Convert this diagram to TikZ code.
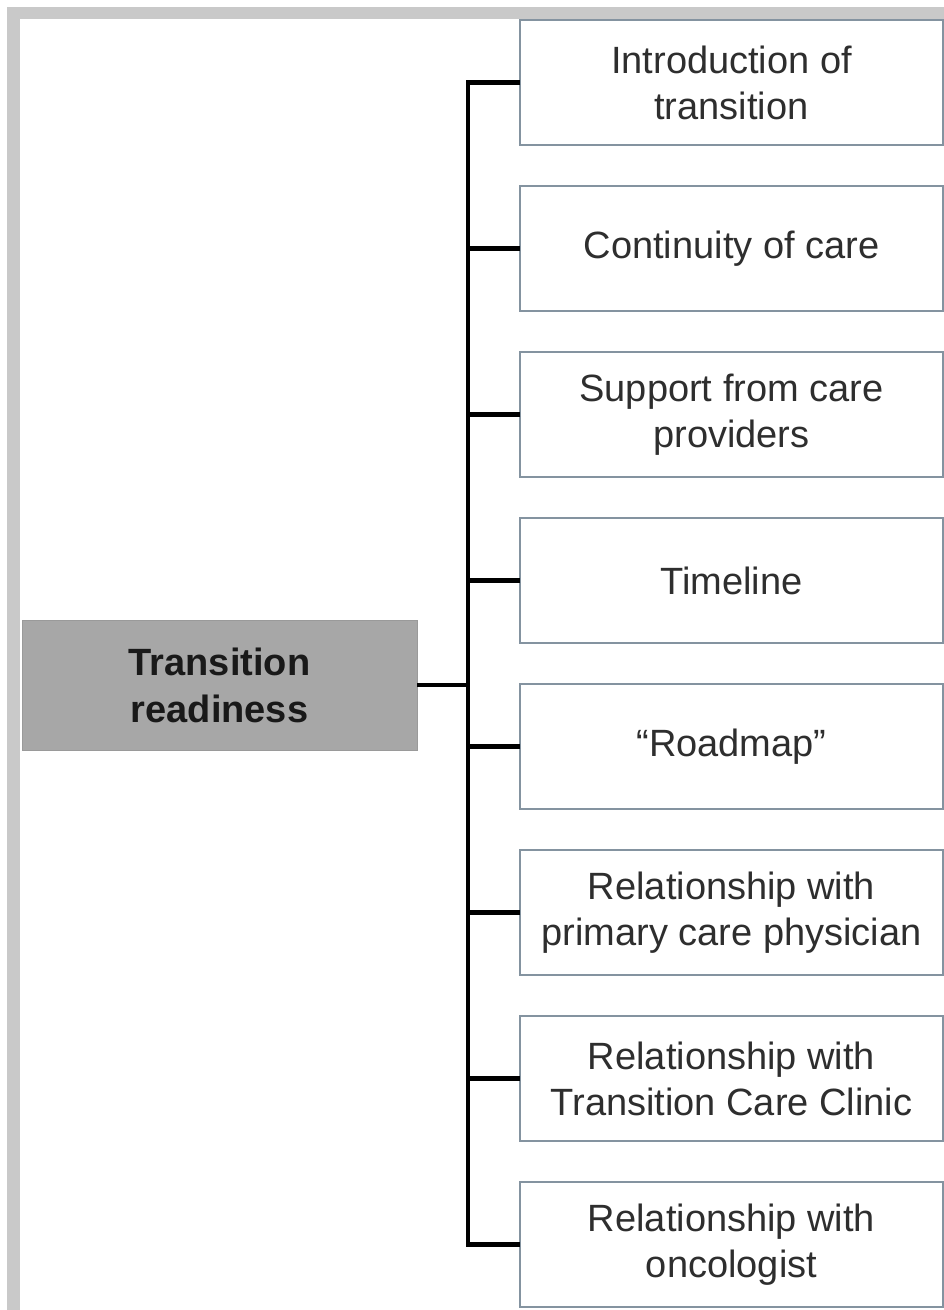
\documentclass[tikz,border=0pt]{standalone}
\usepackage{fontspec}
\setmainfont{Liberation Sans}
\definecolor{framegray}{HTML}{C9C9C9}
\definecolor{rootfill}{HTML}{A7A7A7}
\definecolor{rootedge}{HTML}{9A9A9A}
\definecolor{boxedge}{HTML}{8493A0}
\definecolor{boxtext}{HTML}{2E2E2E}
\tikzset{
  itembox/.style={draw=boxedge, line width=1.6pt, fill=white, inner sep=0pt, outer sep=0pt,
    minimum width=423pt, minimum height=125pt, align=center, text=boxtext,
    font=\fontsize{38}{46}\selectfont},
  rootbox/.style={draw=rootedge, line width=1pt, fill=rootfill, inner sep=0pt, outer sep=0pt,
    minimum width=395pt, minimum height=130pt, align=center, text=black!90,
    font=\fontsize{38}{47}\selectfont\bfseries},
  conn/.style={draw=black, line width=4.5pt, line join=miter}
}
\begin{document}
\begin{tikzpicture}[x=1pt,y=-1pt]
\useasboundingbox (0,0) rectangle (944,1310);
% page frame
\fill[white] (0,0) rectangle (944,1310);
\fill[framegray] (7,7) rectangle (944,1310);
\fill[white] (20,19) rectangle (944,1310);

% root node
\node[rootbox] (root) at (219.5,685) {Transition\\readiness};

% branch boxes
\node[itembox] (b1) at (731.5,82.5)  {Introduction of\\transition};
\node[itembox] (b2) at (731.5,248.5) {Continuity of care};
\node[itembox] (b3) at (731.5,414.5) {Support from care\\providers};
\node[itembox] (b4) at (731.5,580.5) {Timeline};
\node[itembox] (b5) at (731.5,746.5) {“Roadmap”};
\node[itembox] (b6) at (731.5,912.5) {Relationship with\\primary care physician};
\node[itembox] (b7) at (731.5,1078.5) {Relationship with\\Transition Care Clinic};
\node[itembox] (b8) at (731.5,1244.5) {Relationship with\\oncologist};

% spine and branches
\coordinate (spine) at (468,0);
\draw[conn] (b1.west) -- (b1.west -| spine) -- (b8.west -| spine) -- (b8.west);
\foreach \b in {b2,b3,b4,b5,b6,b7}
  \draw[conn] (\b.west) -- (\b.west -| spine);
\draw[conn] (root.east) -- (root.east -| spine);
\end{tikzpicture}
\end{document}
